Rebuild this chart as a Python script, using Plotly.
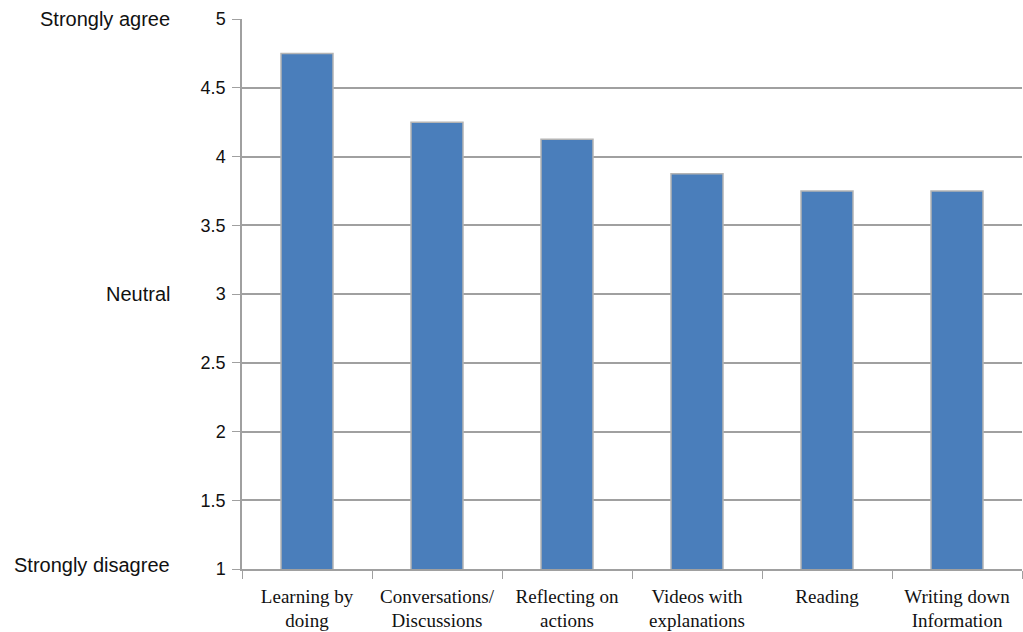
import plotly.graph_objects as go

categories = ["Learning by<br>doing", "Conversations/<br>Discussions", "Reflecting on<br>actions",
              "Videos with<br>explanations", "Reading", "Writing down<br>Information"]
values = [4.75, 4.25, 4.125, 3.875, 3.75, 3.75]
y_ticks = [1, 1.5, 2, 2.5, 3, 3.5, 4, 4.5, 5]
y_tick_text = ["1", "1.5", "2", "2.5", "3", "3.5", "4", "4.5", "5"]
scale_labels = ["Strongly agree", "Neutral", "Strongly disagree"]
scale_positions = [5, 3, 1.03]

fig = go.Figure()
fig.add_trace(go.Bar(
    x=categories, y=values, width=0.4,
    marker=dict(color="#4a7ebb", line=dict(color="#b4b4b4", width=1.5)),
))

for label, pos in zip(scale_labels, scale_positions):
    fig.add_annotation(text=label, xref="paper", yref="y", x=-0.09, y=pos,
                       xanchor="right", yanchor="middle", showarrow=False,
                       font=dict(family="Liberation Sans", size=20, color="#111"))

fig.update_layout(
    width=1023, height=632,
    margin=dict(l=242, r=1, t=19, b=63),
    plot_bgcolor="white", paper_bgcolor="white",
    showlegend=False,
    bargap=0.6,
)
fig.update_xaxes(
    type="category", tickson="boundaries", ticks="outside", ticklen=8,
    tickcolor="#a0a0a0", showline=True, linecolor="#a0a0a0", linewidth=1.5,
    showgrid=False, ticklabelstandoff=9,
    tickfont=dict(family="Liberation Serif", size=19, color="#111"),
)
fig.update_yaxes(
    range=[1, 5], tickvals=y_ticks, ticktext=y_tick_text,
    ticks="outside", ticklen=8, tickcolor="#a0a0a0",
    showline=True, linecolor="#a0a0a0", linewidth=1.5,
    showgrid=True, gridcolor="#a0a0a0", gridwidth=1.5,
    zeroline=False, ticklabelstandoff=3,
    tickfont=dict(family="Liberation Sans", size=18, color="#111"),
)

fig.write_html("out.html")
